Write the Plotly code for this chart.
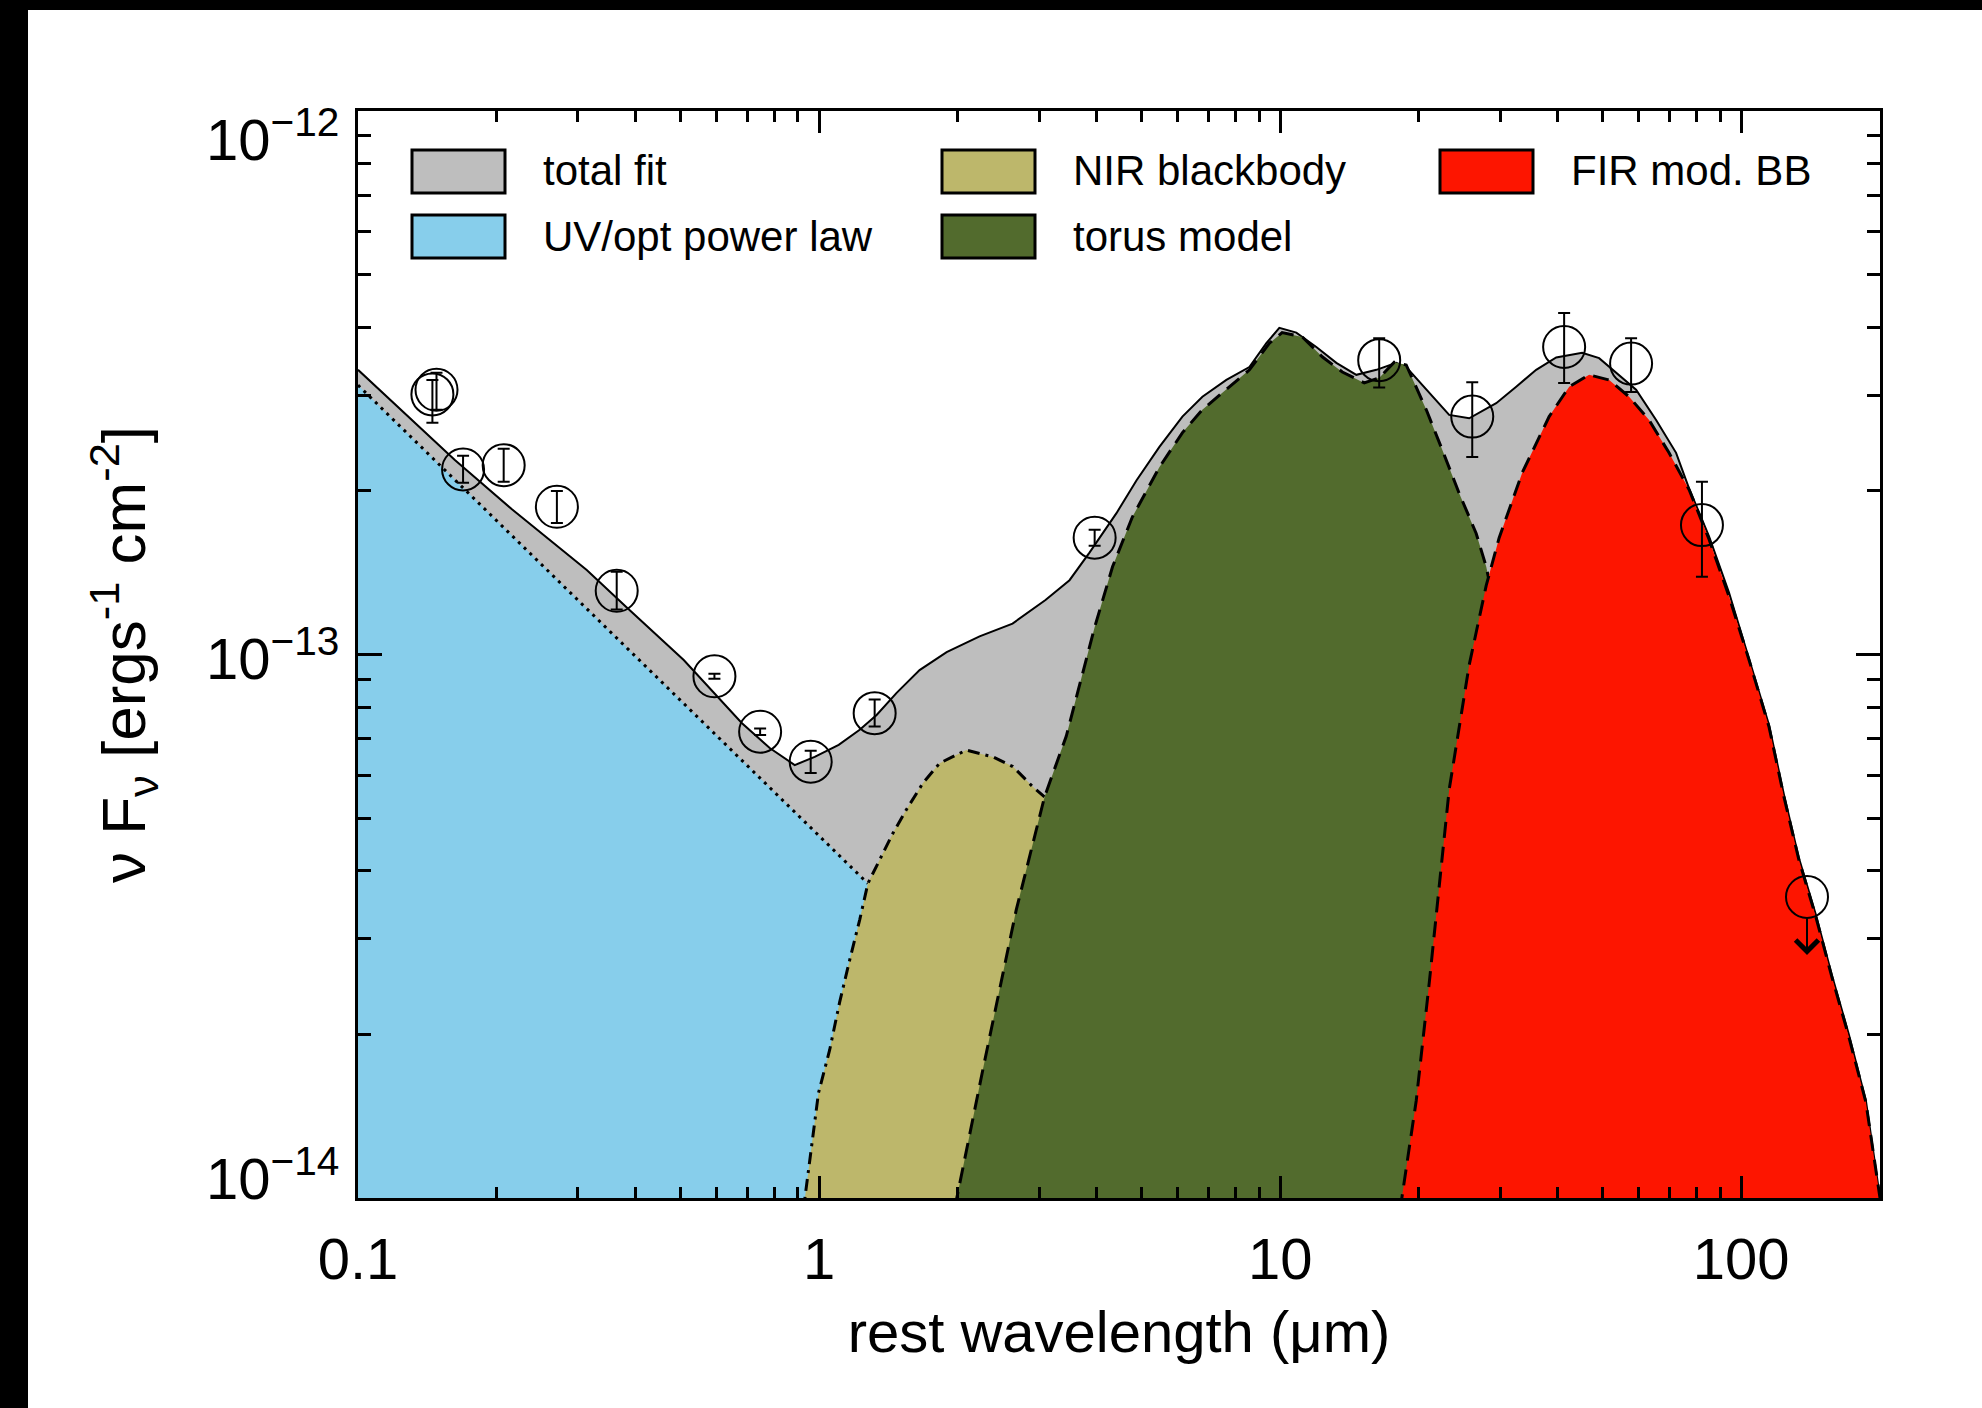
import numpy as np
import plotly.graph_objects as go

# ---------------- data ----------------
# total fit (grey)
total_wl = [0.1, 0.1622, 0.2157, 0.3134, 0.3828, 0.5087, 0.6796, 0.7816, 0.8855, 0.9783, 1.103, 1.225,
            1.333, 1.473, 1.652, 1.891, 2.229, 2.628, 3.098, 3.493, 3.859, 4.416, 4.879, 5.472, 6.138,
            6.783, 7.645, 8.575, 9.335, 9.96, 10.84, 11.98, 13.24, 14.63, 16.17, 17.86, 18.77, 20.75,
            23.26, 25.71, 29.42, 32.51, 35.92, 39.70, 45.19, 49.19, 53.55, 59.16, 65.38, 72.24, 77.10,
            85.15, 94.08, 104.0, 114.9, 123.8, 133.4, 145.2, 157.3, 171.2, 186.4, 200.0]
total_f = [3.34e-13, 2.28e-13, 1.85e-13, 1.43e-13, 1.22e-13, 9.77e-14, 7.48e-14, 6.73e-14, 6.26e-14,
           6.48e-14, 6.82e-14, 7.27e-14, 7.74e-14, 8.50e-14, 9.36e-14, 1.01e-13, 1.08e-13, 1.14e-13,
           1.26e-13, 1.37e-13, 1.54e-13, 1.82e-13, 2.09e-13, 2.41e-13, 2.74e-13, 2.98e-13, 3.20e-13,
           3.38e-13, 3.74e-13, 3.99e-13, 3.91e-13, 3.68e-13, 3.44e-13, 3.27e-13, 3.34e-13, 3.44e-13,
           3.38e-13, 3.07e-13, 2.76e-13, 2.72e-13, 2.90e-13, 3.11e-13, 3.34e-13, 3.52e-13, 3.59e-13,
           3.51e-13, 3.30e-13, 3.07e-13, 2.70e-13, 2.35e-13, 2.02e-13, 1.65e-13, 1.30e-13, 9.85e-14,
           7.42e-14, 5.52e-14, 4.22e-14, 3.32e-14, 2.57e-14, 2.00e-14, 1.51e-14, 1.00e-14]

# UV/optical power law (blue)
pl_wl = [0.1, 1.276]
pl_f = [3.13e-13, 3.79e-14]

# NIR blackbody (khaki)
nir_wl = [0.92, 0.978, 0.997, 1.054, 1.108, 1.165, 1.225, 1.276, 1.353, 1.446, 1.546, 1.680, 1.826,
          2.086, 2.382, 2.632, 2.908, 3.083]
nir_f = [9.2e-15, 1.39e-14, 1.56e-14, 1.87e-14, 2.29e-14, 2.74e-14, 3.25e-14, 3.79e-14, 4.19e-14,
         4.69e-14, 5.18e-14, 5.80e-14, 6.31e-14, 6.67e-14, 6.48e-14, 6.22e-14, 5.71e-14, 5.47e-14]

# torus model (olive green)
torus_wl = [1.97, 2.265, 2.677, 3.083, 3.436, 3.672, 3.957, 4.33, 4.78, 5.47, 6.14, 6.78, 7.64, 8.58,
            9.48, 10.1, 11.17, 12.34, 13.64, 15.22, 16.41, 17.68, 18.77, 20.75, 22.47, 24.45, 26.62,
            27.99, 29.86, 33.0, 36.5, 40.3, 43.4]
torus_f = [9.6e-15, 1.72e-14, 3.39e-14, 5.47e-14, 7.07e-14, 8.73e-14, 1.12e-13, 1.45e-13, 1.79e-13,
           2.21e-13, 2.56e-13, 2.82e-13, 3.07e-13, 3.34e-13, 3.74e-13, 3.91e-13, 3.84e-13, 3.53e-13,
           3.31e-13, 3.16e-13, 3.23e-13, 3.45e-13, 3.41e-13, 2.82e-13, 2.38e-13, 1.98e-13, 1.67e-13,
           1.45e-13, 1.11e-13, 6.4e-14, 3.53e-14, 1.80e-14, 9.9e-15]

# FIR modified blackbody (red)
fir_wl = [18.2, 19.73, 21.06, 22.13, 23.26, 25.71, 27.99, 29.86, 33.50, 38.32, 42.36, 46.79, 51.70,
          57.13, 63.12, 69.74, 77.10, 85.15, 94.08, 104.0, 114.9, 123.8, 133.4, 145.2, 157.3, 171.2,
          186.4, 200.0]
fir_f = [9.5e-15, 1.51e-14, 2.49e-14, 3.80e-14, 5.64e-14, 9.57e-14, 1.34e-13, 1.64e-13, 2.16e-13,
         2.74e-13, 3.11e-13, 3.27e-13, 3.20e-13, 2.98e-13, 2.70e-13, 2.35e-13, 2.01e-13, 1.63e-13,
         1.28e-13, 9.77e-14, 7.36e-14, 5.47e-14, 4.19e-14, 3.29e-14, 2.55e-14, 1.98e-14, 1.50e-14,
         1.00e-14]

# photometric data points
obs_wl = [0.145, 0.148, 0.169, 0.207, 0.270, 0.364, 0.593, 0.745, 0.959, 1.32, 3.96, 16.4, 26.1,
          41.3, 57.7, 82.2]
obs_f = [3.01e-13, 3.07e-13, 2.19e-13, 2.23e-13, 1.87e-13, 1.31e-13, 9.12e-14, 7.21e-14, 6.35e-14,
         7.8e-14, 1.64e-13, 3.48e-13, 2.74e-13, 3.68e-13, 3.43e-13, 1.73e-13]
obs_err_plus = [1.9e-14, 2.3e-14, 1.3e-14, 1.6e-14, 1.3e-14, 1.1e-14, 1.0e-15, 1.0e-15, 3.0e-15,
                4.6e-15, 5.7e-15, 3.4e-14, 4.3e-14, 5.7e-14, 3.9e-14, 3.5e-14]
obs_err_minus = [3.4e-14, 2.5e-14, 1.2e-14, 1.5e-14, 1.25e-14, 1.0e-14, 1.0e-15, 1.0e-15, 3.0e-15,
                 4.3e-15, 5.5e-15, 3.8e-14, 4.3e-14, 5.2e-14, 3.9e-14, 3.4e-14]

# upper limit
ul_wl = [138.9]
ul_f = [3.58e-14]
ul_tip = [2.80e-14]

# axis ticks
x_tickvals = [0.1, 1, 10, 100]
x_ticktext = ["0.1", "1", "10", "100"]
x_minor = [0.2, 0.3, 0.4, 0.5, 0.6, 0.7, 0.8, 0.9, 2, 3, 4, 5, 6, 7, 8, 9,
           20, 30, 40, 50, 60, 70, 80, 90, 200]
y_tickvals = [1e-14, 1e-13, 1e-12]
y_ticktext = ["10<sup>\u221214</sup>", "10<sup>\u221213</sup>", "10<sup>\u221212</sup>"]
y_minor = [2e-14, 3e-14, 4e-14, 5e-14, 6e-14, 7e-14, 8e-14, 9e-14,
           2e-13, 3e-13, 4e-13, 5e-13, 6e-13, 7e-13, 8e-13, 9e-13]

# ---------------- styling ----------------
FONT = "Liberation Sans, Arial, Helvetica, sans-serif"
C_GREY = "#BEBEBE"
C_BLUE = "#87CEEB"
C_KHAKI = "#BDB76B"
C_GREEN = "#526B2D"
C_RED = "#FD1500"

W, H = 1982, 1408
L, R, T, B = 358, 1880, 111, 1198


def px_x(x):
    return (x - L) / (R - L)


def px_y(y):
    return (B - y) / (B - T)


fig = go.Figure()

fig.add_trace(go.Scatter(x=total_wl, y=total_f, mode="lines", fill="tozeroy", fillcolor=C_GREY,
                         line=dict(color="black", width=2), name="total fit", showlegend=False))
fig.add_trace(go.Scatter(x=pl_wl, y=pl_f, mode="lines", fill="tozeroy", fillcolor=C_BLUE,
                         line=dict(color="black", width=3, dash="3px,5px"), name="UV/opt power law",
                         showlegend=False))
fig.add_trace(go.Scatter(x=nir_wl, y=nir_f, mode="lines", fill="tozeroy", fillcolor=C_KHAKI,
                         line=dict(color="black", width=3, dash="12px,6px,3px,6px"),
                         name="NIR blackbody", showlegend=False))
fig.add_trace(go.Scatter(x=torus_wl, y=torus_f, mode="lines", fill="tozeroy", fillcolor=C_GREEN,
                         line=dict(color="black", width=3, dash="16px,9px"), name="torus model",
                         showlegend=False))
fig.add_trace(go.Scatter(x=fir_wl, y=fir_f, mode="lines", fill="tozeroy", fillcolor=C_RED,
                         line=dict(color="black", width=3, dash="16px,9px"), name="FIR mod. BB",
                         showlegend=False))

fig.add_trace(go.Scatter(
    x=obs_wl, y=obs_f, mode="markers", showlegend=False,
    marker=dict(symbol="circle-open", size=42, color="black", line=dict(width=2, color="black")),
    error_y=dict(type="data", symmetric=False, array=obs_err_plus, arrayminus=obs_err_minus,
                 color="black", thickness=2, width=6)))
fig.add_trace(go.Scatter(
    x=ul_wl, y=ul_f, mode="markers", showlegend=False,
    marker=dict(symbol="circle-open", size=42, color="black", line=dict(width=2, color="black"))))

annotations = []
shapes = []

# upper-limit arrow
for wl, tip in zip(ul_wl, ul_tip):
    annotations.append(dict(x=np.log10(wl), y=np.log10(tip), xref="x", yref="y", text="",
                            showarrow=True, ax=0, ay=-38, arrowhead=4, arrowsize=2.2,
                            arrowwidth=2, arrowcolor="black"))

# y tick labels (end labels shifted inside the axis range as in the reference)
yshifts = [24, 0, -24]
for v, t, ys in zip(y_tickvals, y_ticktext, yshifts):
    annotations.append(dict(x=px_x(341), y=np.log10(v), xref="paper", yref="y", text=t,
                            showarrow=False, xanchor="right", yanchor="middle", yshift=ys,
                            font=dict(family=FONT, size=58, color="black")))

# custom legend
legend_items = [("total fit", C_GREY, 412, 150), ("NIR blackbody", C_KHAKI, 942, 150),
                ("FIR mod. BB", C_RED, 1440, 150), ("UV/opt power law", C_BLUE, 412, 215),
                ("torus model", C_GREEN, 942, 215)]
for name, col, bx, by in legend_items:
    shapes.append(dict(type="rect", xref="paper", yref="paper", x0=px_x(bx), x1=px_x(bx + 93),
                       y0=px_y(by + 43), y1=px_y(by), fillcolor=col,
                       line=dict(color="black", width=3), layer="above"))
    annotations.append(dict(x=px_x(bx + 129), y=px_y(by + 21), xref="paper", yref="paper",
                            text=name, showarrow=False, xanchor="left", yanchor="middle",
                            font=dict(family=FONT, size=42, color="black")))

# black page edges (left and top)
shapes.append(dict(type="rect", xref="paper", yref="paper", x0=px_x(0), x1=px_x(28),
                   y0=px_y(H), y1=px_y(0), fillcolor="black", line=dict(width=0), layer="above"))
shapes.append(dict(type="rect", xref="paper", yref="paper", x0=px_x(0), x1=px_x(W),
                   y0=px_y(10), y1=px_y(0), fillcolor="black", line=dict(width=0), layer="above"))

axis_common = dict(type="log", showline=True, linecolor="black", linewidth=3, mirror="allticks",
                   ticks="inside", tickcolor="black", tickwidth=2.5, showgrid=False, zeroline=False)

fig.update_layout(
    width=W, height=H,
    margin=dict(l=L, r=W - R, t=T, b=H - B, autoexpand=False),
    paper_bgcolor="white", plot_bgcolor="white",
    font=dict(family=FONT, color="black"),
    xaxis=dict(**axis_common, range=[-1, np.log10(200)], tickvals=x_tickvals, ticktext=x_ticktext,
               ticklen=22, tickfont=dict(size=58), ticklabelstandoff=8,
               minor=dict(tickvals=x_minor, ticks="inside", ticklen=11, tickwidth=2.5,
                          tickcolor="black"),
               title=dict(text="rest wavelength (\u03bcm)", font=dict(size=58), standoff=22)),
    yaxis=dict(**axis_common, range=[-14, -12], tickvals=y_tickvals, showticklabels=False,
               ticklen=24,
               minor=dict(tickvals=y_minor, ticks="inside", ticklen=13, tickwidth=2.5,
                          tickcolor="black"),
               title=dict(text="\u03bd F<sub>\u03bd</sub> [ergs<sup>-1</sup> cm<sup>-2</sup>]",
                          font=dict(size=62), standoff=190)),
    annotations=annotations,
    shapes=shapes,
)

fig.write_html("out.html")
